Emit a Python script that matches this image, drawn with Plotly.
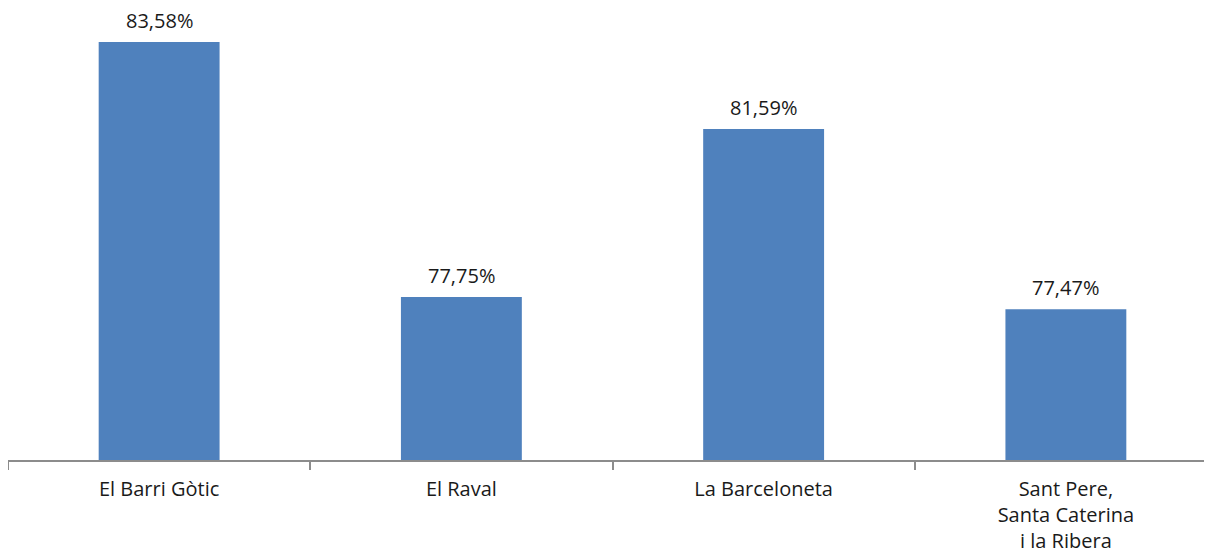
import plotly.graph_objects as go

categories = ["El Barri Gòtic", "El Raval", "La Barceloneta", "Sant Pere,<br>Santa Caterina<br>i la Ribera"]
values = [83.58, 77.75, 81.59, 77.47]
labels = ["83,58%", "77,75%", "81,59%", "77,47%"]

FONT = "Open Sans"
fig = go.Figure(go.Bar(
    x=categories, y=values,
    marker=dict(color="#4F81BD", line=dict(width=0)),
    width=0.4,
))
for c, v, t in zip(categories, values, labels):
    fig.add_annotation(x=c, y=v, text=t, showarrow=False, yanchor="bottom", yshift=7,
                       borderpad=0,
                       font=dict(size=20, color="#1a1a1a", family=FONT))
fig.update_layout(
    width=1212, height=554,
    margin=dict(l=0, r=3, t=2, b=102, autoexpand=False),
    plot_bgcolor="white", paper_bgcolor="white",
    showlegend=False,
    font=dict(family=FONT, size=20, color="#1a1a1a"),
)
fig.update_xaxes(
    showline=True, linecolor="#8c8c8c", linewidth=2,
    ticks="outside", tickson="boundaries", ticklen=8, tickcolor="#8c8c8c", tickwidth=2,
    tickfont=dict(size=20, color="#1a1a1a", family=FONT), showgrid=False, automargin=False,
    ticklabelstandoff=10,
)
fig.update_yaxes(range=[74.02, 84.31], visible=False, showgrid=False, automargin=False)
fig.write_html("out.html")
